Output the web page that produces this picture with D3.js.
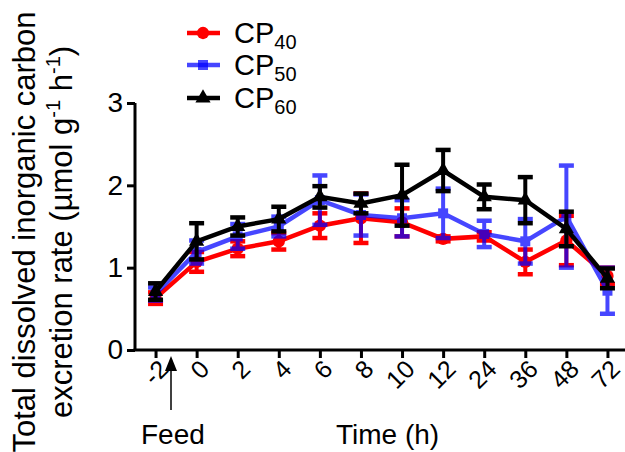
<!DOCTYPE html>
<html>
<head>
<meta charset="utf-8">
<script src="https://cdn.jsdelivr.net/npm/d3@7"></script>
<style>
  body { margin: 0; background: #fff; }
  text { font-family: "Liberation Sans", Arial, sans-serif; }
</style>
</head>
<body>
<div id="chart"></div>
<script>
// time points (h)
var times = ["-2", "0", "2", "4", "6", "8", "10", "12", "24", "36", "48", "72"];

// means and error (SEM)
var cp40 = [0.63, 1.07, 1.23, 1.32, 1.51, 1.60, 1.55, 1.35, 1.38, 1.07, 1.33, 0.90];
var cp40Err = [0.07, 0.12, 0.09, 0.10, 0.15, 0.30, 0.17, 0.03, 0.05, 0.15, 0.30, 0.10];
var cp50 = [0.68, 1.19, 1.38, 1.50, 1.82, 1.64, 1.60, 1.66, 1.41, 1.32, 1.62, 0.72];
var cp50Err = [0.08, 0.14, 0.15, 0.12, 0.30, 0.25, 0.22, 0.30, 0.16, 0.27, 0.62, 0.28];
var cp60 = [0.71, 1.32, 1.50, 1.59, 1.86, 1.78, 1.88, 2.18, 1.86, 1.82, 1.47, 0.87];
var cp60Err = [0.10, 0.22, 0.11, 0.15, 0.13, 0.12, 0.37, 0.25, 0.15, 0.28, 0.21, 0.12];

var yTicks = [0, 1, 2, 3];

var series = [
  { name: "40", vals: cp40, err: cp40Err, color: "#ff0000", op: 1, shape: d3.symbolCircle, size: 120 },
  { name: "50", vals: cp50, err: cp50Err, color: "#0000ff", op: 0.72, shape: d3.symbolSquare, size: 100 },
  { name: "60", vals: cp60, err: cp60Err, color: "#000000", op: 1, shape: d3.symbolTriangle, size: 100 }
];

var W = 625, H = 452;
var svg = d3.select("#chart").append("svg")
  .attr("width", W).attr("height", H);

var x = d3.scalePoint().domain(times).range([135, 628]).padding(0.5);
var y = d3.scaleLinear().domain([0, 3]).range([350, 103]);

// axes
var yAxis = svg.append("g")
  .attr("transform", "translate(135,0)")
  .call(d3.axisLeft(y).tickValues(yTicks).tickSize(8).tickPadding(4).tickFormat(d3.format("d")));
yAxis.select(".domain").attr("stroke-width", 3).attr("d", "M0,103V350");
yAxis.selectAll(".tick line").attr("stroke-width", 3);
yAxis.selectAll(".tick text").attr("font-size", 28).attr("fill", "#000")
  .attr("font-family", "Liberation Sans, Arial, sans-serif");

var xAxis = svg.append("g")
  .attr("transform", "translate(0,350)")
  .call(d3.axisBottom(x).tickSize(8).tickSizeOuter(0));
xAxis.select(".domain").attr("stroke-width", 3).attr("d", "M133.5,0H628");
xAxis.selectAll(".tick line").attr("stroke-width", 3);
xAxis.selectAll(".tick text")
  .attr("font-size", 25).attr("fill", "#000")
  .attr("font-family", "Liberation Sans, Arial, sans-serif")
  .attr("text-anchor", "end")
  .attr("dy", null).attr("y", 0)
  .attr("transform", "translate(9,16) rotate(-45)")
  .attr("dominant-baseline", "middle");

// series
series.forEach(function (s) {
  var g = svg.append("g").attr("opacity", s.op);
  var line = d3.line()
    .x(function (d, i) { return x(times[i]); })
    .y(function (d) { return y(d); });
  g.append("path").datum(s.vals)
    .attr("fill", "none").attr("stroke", s.color).attr("stroke-width", 4.5)
    .attr("d", line);
  s.vals.forEach(function (v, i) {
    var cx = x(times[i]);
    var lo = y(v - s.err[i]), hi = y(v + s.err[i]);
    g.append("line").attr("x1", cx).attr("x2", cx).attr("y1", lo).attr("y2", hi)
      .attr("stroke", s.color).attr("stroke-width", 4);
    [lo, hi].forEach(function (yy) {
      g.append("line").attr("x1", cx - 7.5).attr("x2", cx + 7.5).attr("y1", yy).attr("y2", yy)
        .attr("stroke", s.color).attr("stroke-width", 4.5);
    });
    g.append("path")
      .attr("d", d3.symbol().type(s.shape).size(s.size)())
      .attr("transform", "translate(" + cx + "," + y(v) + ")")
      .attr("fill", s.color);
  });
});

// legend
var legY = [33, 65, 98];
series.forEach(function (s, i) {
  var g = svg.append("g").attr("transform", "translate(0," + legY[i] + ")");
  g.append("line").attr("x1", 187).attr("x2", 220).attr("stroke", s.color)
    .attr("stroke-width", 4.5).attr("opacity", s.op);
  g.append("path").attr("d", d3.symbol().type(s.shape).size(s.size)())
    .attr("transform", "translate(203,0)").attr("fill", s.color).attr("opacity", s.op);
  var t = g.append("text").attr("x", 234).attr("y", 10).attr("font-size", 29);
  t.append("tspan").text("CP");
  t.append("tspan").attr("font-size", 20).attr("dy", 6).text(s.name);
});

// y label
var yl = svg.append("text")
  .attr("transform", "translate(0,232) rotate(-90)")
  .attr("text-anchor", "middle").attr("font-size", 31);
yl.append("tspan").attr("x", 0).attr("y", 35).text("Total dissolved inorganic carbon");
var l2 = yl.append("tspan").attr("x", 0).attr("y", 72);
l2.append("tspan").text("excretion rate (\u00b5mol g");
l2.append("tspan").attr("font-size", 20).attr("dy", -12).text("-1");
l2.append("tspan").attr("dy", 12).text(" h");
l2.append("tspan").attr("font-size", 20).attr("dy", -12).text("-1");
l2.append("tspan").attr("dy", 12).text(")");

// feed arrow
svg.append("line").attr("x1", 171).attr("x2", 171).attr("y1", 410).attr("y2", 368)
  .attr("stroke", "#000").attr("stroke-width", 1.5);
svg.append("path").attr("d", "M165,371L171,356L177,371Z").attr("fill", "#000");

svg.append("text").attr("x", 141).attr("y", 444).attr("font-size", 28).text("Feed");
svg.append("text").attr("x", 336).attr("y", 444).attr("font-size", 28).text("Time (h)");
</script>
</body>
</html>
